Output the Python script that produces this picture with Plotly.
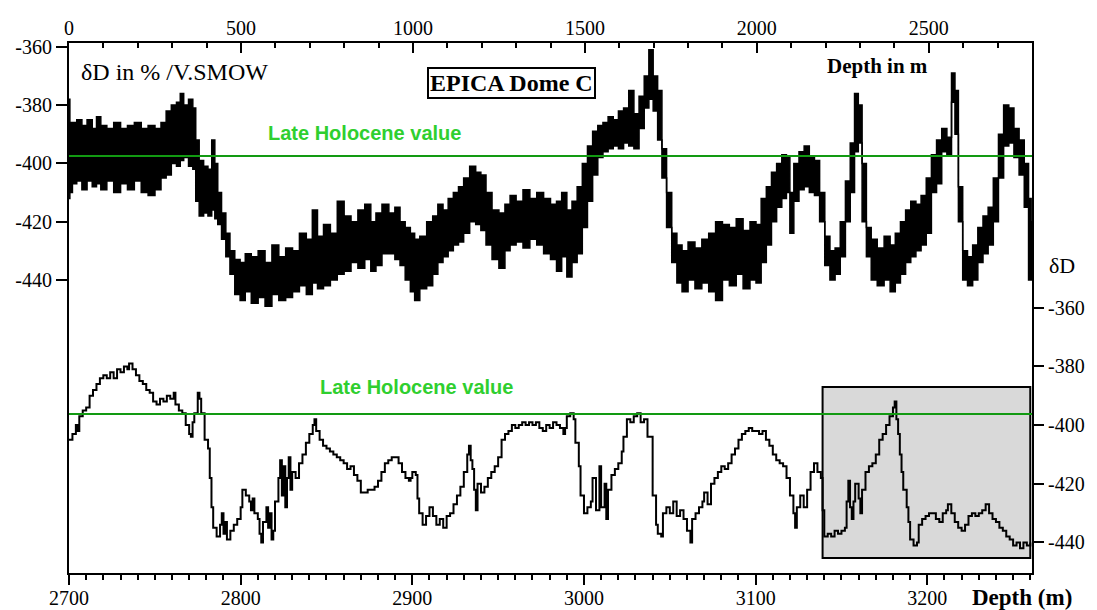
import plotly.graph_objects as go

# ---------------------------------------------------------------------------
# Upper record: EPICA Dome C deuterium, 0-2800 m (envelope of the raw signal)
# ---------------------------------------------------------------------------
top_depth = [0, 5, 15, 30, 45, 60, 75, 85, 100, 120, 140, 160, 180, 200, 220, 240,
             260, 275, 290, 305, 320, 327, 340, 355, 365, 372, 385, 398, 410, 420,
             428, 437, 450, 462, 474, 490, 505, 520, 540, 560, 580, 600, 620, 640,
             660, 680, 700, 715, 730, 750, 770, 790, 810, 830, 850, 870, 885, 900,
             920, 940, 955, 970, 985, 1000, 1010, 1030, 1050, 1065, 1080, 1095, 1110,
             1125, 1140, 1155, 1175, 1190, 1205, 1220, 1240, 1260, 1275, 1290, 1310,
             1330, 1350, 1370, 1390, 1410, 1425, 1440, 1455, 1470, 1485, 1500, 1515,
             1530, 1545, 1560, 1575, 1590, 1605, 1620, 1635, 1650, 1665, 1680, 1692,
             1705, 1718, 1730, 1745, 1760, 1775, 1790, 1810, 1830, 1850, 1870, 1890,
             1910, 1930, 1950, 1970, 1990, 2005, 2020, 2035, 2050, 2065, 2080, 2092,
             2100, 2115, 2130, 2145, 2160, 2175, 2190, 2205, 2220, 2235, 2250, 2265,
             2278, 2290, 2300, 2312, 2325, 2340, 2360, 2380, 2395, 2410, 2425, 2440,
             2455, 2470, 2485, 2500, 2515, 2530, 2545, 2560, 2572, 2580, 2592, 2605,
             2620, 2635, 2650, 2665, 2680, 2695, 2710, 2725, 2740, 2755, 2770, 2785,
             2795, 2800]
top_high = [-378, -386, -386, -385, -387, -385, -388, -384, -387, -388, -386, -388, -387,
            -386, -388, -387, -388, -386, -382, -380, -379, -376, -380, -378, -381, -392,
            -399, -401, -402, -392, -400, -410, -417, -424, -430, -433, -434, -431, -432,
            -430, -434, -428, -432, -429, -430, -424, -426, -416, -425, -421, -424, -413,
            -418, -420, -416, -414, -420, -417, -414, -417, -415, -420, -422, -424, -426,
            -425, -420, -418, -414, -416, -412, -410, -408, -405, -401, -403, -404, -410,
            -416, -417, -414, -411, -413, -409, -412, -410, -412, -414, -413, -410, -416,
            -413, -408, -400, -394, -389, -387, -386, -384, -385, -382, -381, -375, -383,
            -377, -370, -361, -370, -375, -395, -410, -424, -428, -430, -427, -429, -426,
            -424, -420, -421, -422, -419, -423, -420, -421, -412, -408, -403, -400, -397,
            -398, -410, -400, -396, -394, -398, -399, -410, -425, -430, -429, -420, -406,
            -393, -376, -380, -400, -422, -426, -429, -425, -428, -424, -420, -416, -413,
            -414, -411, -405, -397, -392, -388, -391, -369, -375, -408, -430, -432, -428,
            -422, -418, -415, -405, -390, -380, -381, -388, -392, -400, -412, -420]
top_low = [-412, -410, -407, -406, -409, -406, -408, -407, -409, -406, -410, -407, -409,
           -406, -410, -411, -409, -405, -404, -400, -401, -399, -398, -401, -402, -413,
           -418, -417, -418, -416, -419, -421, -426, -432, -438, -445, -447, -444, -448,
           -446, -449, -445, -447, -446, -444, -442, -445, -441, -443, -442, -440, -438,
           -437, -434, -436, -433, -437, -435, -431, -431, -433, -435, -440, -444, -447,
           -443, -442, -438, -434, -432, -430, -428, -427, -424, -420, -421, -423, -428,
           -433, -436, -430, -428, -427, -429, -426, -428, -431, -433, -437, -432, -439,
           -434, -431, -422, -413, -404, -398, -396, -395, -394, -395, -393, -394, -395,
           -388, -381, -378, -382, -392, -405, -422, -434, -441, -444, -440, -443, -441,
           -444, -447, -440, -442, -438, -443, -440, -441, -434, -428, -420, -415, -412,
           -410, -424, -413, -409, -408, -410, -411, -420, -435, -440, -438, -432, -420,
           -410, -396, -393, -420, -432, -440, -442, -440, -444, -441, -438, -434, -432,
           -430, -428, -424, -410, -407, -396, -397, -379, -390, -420, -440, -442, -440,
           -434, -431, -428, -420, -405, -394, -393, -398, -404, -415, -440, -440]

# ---------------------------------------------------------------------------
# Lower record: bottom section of the core, 2700-3260 m
# ---------------------------------------------------------------------------
bot_depth = [2700, 2702, 2704, 2705, 2706, 2708, 2710, 2712, 2714, 2716, 2718, 2720, 2722,
             2724, 2726, 2728, 2730, 2732, 2734, 2735, 2737, 2739, 2741, 2743, 2745, 2747,
             2749, 2751, 2753, 2755, 2757, 2759, 2761, 2762, 2764, 2766, 2768, 2770, 2771,
             2772, 2773, 2775, 2776, 2777, 2779, 2781, 2782, 2783, 2784, 2786, 2788, 2789,
             2790, 2791, 2792, 2794, 2796, 2798, 2800, 2801, 2803, 2805, 2806, 2807, 2808,
             2810, 2811, 2812, 2813, 2815, 2816, 2817, 2818, 2819, 2820, 2822, 2823, 2824,
             2825, 2826, 2827, 2828, 2829, 2830, 2832, 2834, 2836, 2838, 2840, 2842, 2843,
             2844, 2846, 2848, 2850, 2852, 2854, 2856, 2858, 2860, 2862, 2864, 2866, 2868,
             2870, 2872, 2874, 2876, 2878, 2880, 2882, 2884, 2886, 2888, 2890, 2892, 2894,
             2896, 2898, 2899, 2900, 2902, 2903, 2904, 2906, 2908, 2910, 2912, 2914, 2916,
             2918, 2920, 2922, 2924, 2926, 2928, 2930, 2932, 2933, 2934, 2935, 2936, 2937,
             2938, 2940, 2942, 2944, 2946, 2948, 2950, 2952, 2954, 2956, 2958, 2960, 2962,
             2964, 2966, 2968, 2970, 2972, 2974, 2976, 2978, 2980, 2982, 2984, 2986, 2988,
             2989, 2990, 2992, 2994, 2995, 2997, 2998, 3000, 3002, 3004, 3005, 3007, 3009,
             3010, 3012, 3013, 3014, 3016, 3018, 3020, 3022, 3023, 3025, 3027, 3029, 3031,
             3033, 3035, 3037, 3039, 3040, 3042, 3043, 3045, 3046, 3048, 3050, 3052, 3054,
             3056, 3058, 3060, 3062, 3063, 3065, 3067, 3069, 3070, 3072, 3074, 3076, 3078,
             3080, 3082, 3084, 3086, 3088, 3090, 3092, 3094, 3096, 3098, 3100, 3102, 3104,
             3106, 3108, 3110, 3112, 3114, 3116, 3118, 3120, 3122, 3123, 3124, 3126, 3128,
             3130, 3132, 3134, 3136, 3138, 3139, 3140, 3142, 3144, 3146, 3148, 3150, 3152,
             3153, 3154, 3155, 3156, 3157, 3158, 3160, 3161, 3162, 3164, 3166, 3168, 3170,
             3172, 3174, 3176, 3178, 3180, 3181, 3182, 3183, 3184, 3185, 3186, 3188, 3189,
             3190, 3192, 3194, 3195, 3197, 3199, 3201, 3203, 3205, 3207, 3209, 3211, 3212,
             3214, 3216, 3218, 3220, 3222, 3224, 3226, 3228, 3230, 3232, 3234, 3236, 3238,
             3240, 3242, 3244, 3246, 3248, 3250, 3252, 3254, 3256, 3258, 3260]
bot_dD = [-405, -403, -400, -402, -397, -395, -394, -390, -388, -386, -384, -383, -384,
          -382, -384, -381, -382, -380, -381, -379, -381, -383, -385, -386, -388, -389,
          -392, -393, -391, -392, -390, -391, -389, -393, -395, -396, -400, -403, -404,
          -399, -396, -389, -391, -396, -405, -408, -418, -428, -435, -438, -434, -430,
          -437, -433, -439, -436, -434, -432, -428, -422, -424, -426, -429, -425, -430,
          -432, -437, -440, -433, -428, -435, -430, -439, -436, -426, -418, -412, -424,
          -414, -428, -418, -411, -422, -416, -418, -413, -410, -406, -403, -400, -398,
          -402, -405, -407, -408, -409, -410, -411, -412, -413, -415, -414, -417, -419,
          -423, -423, -422, -422, -421, -419, -416, -413, -412, -411, -411, -413, -416,
          -418, -419, -418, -416, -417, -425, -430, -434, -431, -428, -431, -434, -432,
          -435, -431, -430, -427, -424, -421, -416, -410, -407, -412, -415, -422, -429,
          -420, -423, -421, -418, -416, -414, -411, -405, -403, -402, -400, -401, -400,
          -399, -400, -399, -400, -399, -401, -402, -400, -401, -399, -400, -401, -403,
          -401, -397, -396, -398, -406, -414, -424, -430, -428, -426, -418, -429, -414,
          -428, -420, -432, -422, -417, -415, -413, -409, -404, -398, -399, -397, -396,
          -399, -398, -404, -404, -424, -434, -437, -438, -430, -428, -430, -426, -431,
          -429, -432, -436, -440, -432, -430, -428, -426, -423, -427, -420, -418, -416,
          -414, -415, -413, -410, -408, -405, -403, -402, -401, -402, -402, -403, -402,
          -405, -407, -410, -412, -413, -414, -418, -424, -430, -435, -428, -424, -428,
          -422, -416, -413, -416, -418, -429, -438, -437, -438, -436, -437, -436, -435,
          -426, -419, -428, -432, -426, -420, -425, -430, -422, -416, -414, -413, -410,
          -405, -403, -400, -397, -394, -392, -398, -403, -410, -416, -422, -428, -433,
          -439, -441, -440, -434, -432, -431, -430, -430, -432, -433, -430, -429, -427,
          -430, -433, -435, -436, -434, -431, -430, -431, -430, -429, -427, -430, -432,
          -433, -435, -436, -438, -439, -441, -440, -442, -440, -441, -440]

# Reference level and highlighted window
holocene_top = -397.5
holocene_bot = -396.2
window_depth = [3139, 3260]
window_dD = [-445.3, -387.0]

# Axis ticks
top_xticks = [0, 500, 1000, 1500, 2000, 2500]
bot_xticks = [2700, 2800, 2900, 3000, 3100, 3200]
y_ticks = [-360, -380, -400, -420, -440]

W, H = 1097, 610
ML, MR, MT, MB = 69, 65, 43, 37
PW, PH = W - ML - MR, H - MT - MB


def px(x):
    return (x - ML) / PW


def py(y):
    return 1 - (y - MT) / PH


SERIF = "Liberation Serif, Times New Roman, serif"
SANS = "Liberation Sans, Arial, sans-serif"
GREEN_LINE = "#129a12"
GREEN_TEXT = "#2fcf2f"

fig = go.Figure()

# Upper record: band between the high and low extremes, drawn as steps
fig.add_trace(go.Scatter(
    x=top_depth, y=top_high, mode="lines",
    line=dict(color="black", width=1.5, shape="hvh"),
    xaxis="x", yaxis="y", hoverinfo="skip",
))
fig.add_trace(go.Scatter(
    x=top_depth, y=top_low, mode="lines", fill="tonexty", fillcolor="black",
    line=dict(color="black", width=1.5, shape="hvh"),
    xaxis="x", yaxis="y", hoverinfo="skip",
))

# Lower record as a stepped line
fig.add_trace(go.Scatter(
    x=bot_depth, y=bot_dD,
    mode="lines", line=dict(color="black", width=2, shape="hv"),
    xaxis="x2", yaxis="y2",
))

# Highlighted window (behind the data)
fig.add_shape(type="rect", xref="x2", yref="y2",
              x0=window_depth[0], x1=window_depth[1],
              y0=window_dD[0], y1=window_dD[1],
              fillcolor="#d9d9d9", line=dict(color="black", width=2), layer="below")

# Late Holocene reference lines
fig.add_shape(type="line", xref="paper", yref="y", x0=0, x1=1,
              y0=holocene_top, y1=holocene_top,
              line=dict(color=GREEN_LINE, width=2), layer="above")
fig.add_shape(type="line", xref="paper", yref="y2", x0=0, x1=1,
              y0=holocene_bot, y1=holocene_bot,
              line=dict(color=GREEN_LINE, width=2), layer="above")

tickfont = dict(family=SERIF, size=20, color="black")
common = dict(showline=True, linecolor="black", linewidth=2, showgrid=False,
              zeroline=False, tickfont=tickfont, automargin=False, tickcolor="black",
              tickwidth=1.5)

fig.update_layout(
    template="none",
    width=W, height=H,
    margin=dict(l=ML, r=MR, t=MT, b=MB, pad=0, autoexpand=False),
    paper_bgcolor="white", plot_bgcolor="white",
    showlegend=False,
    xaxis=dict(
        side="top", anchor="y", range=[0, 2800],
        tickvals=top_xticks, ticktext=[str(v) for v in top_xticks],
        ticks="inside", ticklen=10, ticklabelstandoff=-2,
        minor=dict(tickvals=list(range(0, 2801, 100)), ticks="inside",
                   ticklen=5, tickwidth=1.5, tickcolor="black"),
        **common,
    ),
    xaxis2=dict(
        side="bottom", anchor="y2", overlaying="x", range=[2700, 3261],
        tickvals=bot_xticks, ticktext=[str(v) for v in bot_xticks],
        ticks="outside", ticklen=10, ticklabelstandoff=-4,
        minor=dict(tickvals=list(range(2700, 3261, 10)), ticks="outside",
                   ticklen=5, tickwidth=1.5, tickcolor="black"),
        **common,
    ),
    yaxis=dict(
        side="left", anchor="x", range=[-540.5, -358.7],
        tickvals=y_ticks, ticktext=[str(v) for v in y_ticks],
        ticks="outside", ticklen=11,
        **common,
    ),
    yaxis2=dict(
        side="right", anchor="x2", overlaying="y", range=[-450.4, -269.8],
        tickvals=y_ticks, ticktext=[str(v) for v in y_ticks],
        ticks="outside", ticklen=10,
        **common,
    ),
)

annotations = [
    dict(text="δD in % /V.SMOW", x=px(79), y=py(72), xanchor="left", yanchor="middle",
         font=dict(family=SERIF, size=24, color="black")),
    dict(text="<b>EPICA Dome C</b>", x=px(511), y=py(83), xanchor="center", yanchor="middle",
         font=dict(family=SERIF, size=24, color="black"),
         bordercolor="black", borderwidth=2, borderpad=1, bgcolor="white"),
    dict(text="<b>Depth in m</b>", x=px(877), y=py(66), xanchor="center", yanchor="middle",
         font=dict(family=SERIF, size=21, color="black")),
    dict(text="<b>Late Holocene value</b>", x=px(364), y=py(133), xanchor="center",
         yanchor="middle", font=dict(family=SANS, size=20, color=GREEN_TEXT)),
    dict(text="<b>Late Holocene value</b>", x=px(416), y=py(387), xanchor="center",
         yanchor="middle", font=dict(family=SANS, size=20, color=GREEN_TEXT)),
    dict(text="δD", x=px(1062), y=py(265), xanchor="center", yanchor="middle",
         font=dict(family=SERIF, size=22, color="black")),
    dict(text="<b>Depth (m)</b>", x=px(1022), y=py(597), xanchor="center", yanchor="middle",
         font=dict(family=SERIF, size=23, color="black")),
]
for a in annotations:
    fig.add_annotation(xref="paper", yref="paper", showarrow=False, **a)

fig.write_html("out.html")
